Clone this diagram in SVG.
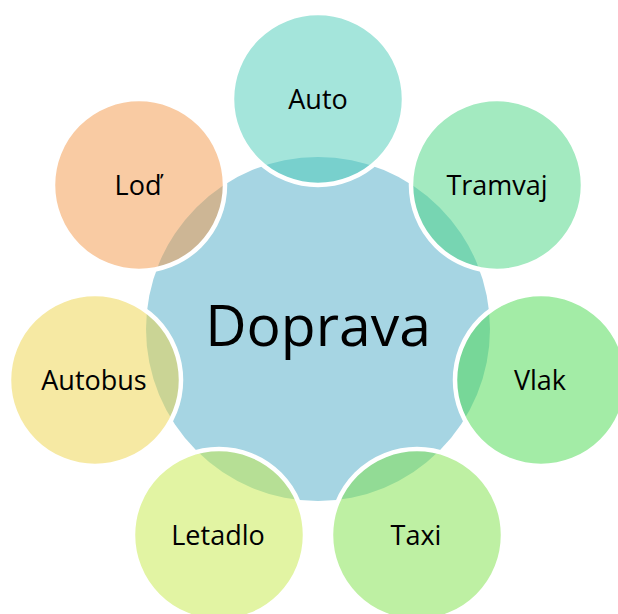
<svg xmlns="http://www.w3.org/2000/svg" width="618" height="614" viewBox="0 0 618 614">
<style>
.n{stroke:#ffffff;stroke-width:4.5;fill-opacity:0.5}
.t{font-family:"Open Sans","Noto Sans","DejaVu Sans",sans-serif;font-size:27px;fill:#000;text-anchor:middle}
.c{font-family:"Open Sans","Noto Sans","DejaVu Sans",sans-serif;font-size:57px;fill:#000;text-anchor:middle}
</style>
<rect width="618" height="614" fill="#ffffff"/>
<g id="connectors"></g>
<g id="center">
<circle cx="318" cy="329" r="172" fill="#A6D5E3"/>
<text class="c" x="318" y="346">Doprava</text>
</g>
<g id="auto">
<circle class="n" cx="318" cy="99" r="86" fill="#49CBB7"/>
<text class="t" x="318" y="109">Auto</text>
</g>
<g id="tramvaj">
<circle class="n" cx="497" cy="185" r="86" fill="#47D581"/>
<text class="t" x="497" y="195">Tramvaj</text>
</g>
<g id="vlak">
<circle class="n" cx="541" cy="380" r="86" fill="#47D94D"/>
<text class="t" x="540" y="390">Vlak</text>
</g>
<g id="taxi">
<circle class="n" cx="417" cy="535" r="86" fill="#7DE147"/>
<text class="t" x="416" y="545">Taxi</text>
</g>
<g id="letadlo">
<circle class="n" cx="219" cy="535" r="86" fill="#C5E947"/>
<text class="t" x="218" y="545">Letadlo</text>
</g>
<g id="autobus">
<circle class="n" cx="95" cy="380" r="86" fill="#EDD347"/>
<text class="t" x="94" y="390">Autobus</text>
</g>
<g id="lod">
<circle class="n" cx="139" cy="185" r="86" fill="#F39747"/>
<text class="t" x="138" y="195">Loď</text>
</g>
</svg>
